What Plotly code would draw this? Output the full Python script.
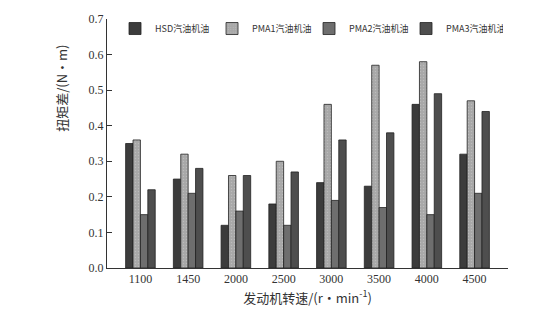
import plotly.graph_objects as go

speeds = ["1100", "1450", "2000", "2500", "3000", "3500", "4000", "4500"]
hsd = [0.35, 0.25, 0.12, 0.18, 0.24, 0.23, 0.46, 0.32]
pma1 = [0.36, 0.32, 0.26, 0.30, 0.46, 0.57, 0.58, 0.47]
pma2 = [0.15, 0.21, 0.16, 0.12, 0.19, 0.17, 0.15, 0.21]
pma3 = [0.22, 0.28, 0.26, 0.27, 0.36, 0.38, 0.49, 0.44]
names = ["HSD汽油机油", "PMA1汽油机油", "PMA2汽油机油", "PMA3汽油机油"]
y_title = "扭矩差/(N·m)"
x_title = "发动机转速/(r·min<sup>-1</sup>)"

series = [hsd, pma1, pma2, pma3]
colors = ["#3c3c3c", "#a8a8a8", "#6e6e6e", "#4e4e4e"]
patterns = ["", ".", "", ""]

fig = go.Figure()
for name, vals, c, p in zip(names, series, colors, patterns):
    fig.add_trace(go.Bar(
        x=speeds, y=vals, name=name,
        marker=dict(color=c, line=dict(color="#222222", width=0.8),
                    pattern=dict(shape=p, fgcolor="#d0d0d0", size=3, solidity=0.15) if p else None),
    ))

serif = "Liberation Serif, Noto Sans CJK SC, serif"
cjk = "Noto Sans CJK SC, sans-serif"
fig.update_layout(
    width=550, height=312,
    margin=dict(l=107, r=42, t=14, b=42),
    paper_bgcolor="white", plot_bgcolor="white",
    barmode="group", bargap=0.38, bargroupgap=0,
    font=dict(family=serif, size=12, color="#333333"),
    showlegend=True,
    legend=dict(orientation="h", x=0.02, y=1.02, xanchor="left", yanchor="top",
                font=dict(family=cjk, size=9, color="#333"),
                bgcolor="rgba(0,0,0,0)", itemwidth=30, tracegroupgap=0,
                entrywidth=52, entrywidthmode="pixels"),
    annotations=[dict(text=y_title, textangle=-90, xref="paper", yref="paper",
                      x=-0.112, y=0.72, xanchor="center", yanchor="middle", showarrow=False,
                      font=dict(family=cjk, size=13, color="#333"))],
)
fig.update_xaxes(
    type="category", range=[-0.7, 7.7],
    showline=True, linecolor="#333", linewidth=1, ticks="",
    tickfont=dict(family=serif, size=12, color="#333"),
    title=dict(text=x_title, font=dict(family=cjk, size=13, color="#333"), standoff=4),
)
fig.update_yaxes(
    range=[0, 0.7], dtick=0.1, tickformat=".1f",
    showline=True, linecolor="#333", linewidth=1,
    ticks="inside", ticklen=5, tickcolor="#333",
    showgrid=False, zeroline=False,
    tickfont=dict(family=serif, size=12, color="#333"),
)
fig.write_html("out.html")
